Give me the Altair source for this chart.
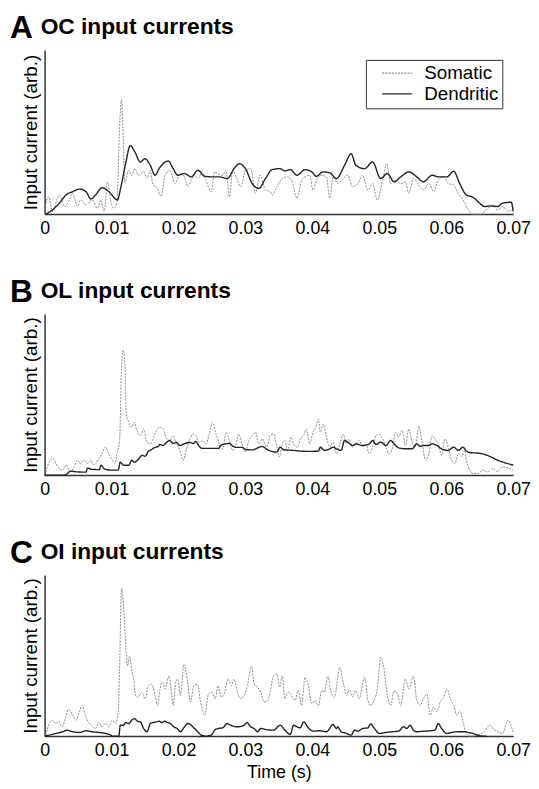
import altair as alt
import pandas as pd

# ---------------- data (time in s, current in arb. units) ----------------
A_som = [(0.0000,4.3),(0.0006,17.7),(0.0012,2.7),(0.0022,19.3),(0.0030,7.7),(0.0037,14.3),(0.0042,21),
         (0.0049,7.7),(0.0054,14.3),(0.0062,9.3),(0.0071,14.3),(0.0079,6),(0.0084,14.3),(0.0089,2.7),
         (0.0094,32.7),(0.0099,12.7),(0.0103,6),(0.0108,11),(0.0112,87.7),(0.0115,116),(0.0117,87.7),
         (0.0120,31),(0.0123,39.3),(0.0126,44.3),(0.0130,39.3),(0.0135,46),(0.0140,39.3),(0.0148,42.7),
         (0.0153,36),(0.0158,44.3),(0.0162,29.3),(0.0167,27.7),(0.0174,17.7),(0.0180,39.3),(0.0187,44.3),
         (0.0195,31),(0.0202,41),(0.0209,37.7),(0.0214,27.7),(0.0219,34.3),(0.0224,39.3),(0.0229,36),
         (0.0236,42.7),(0.0241,34.3),(0.0249,22.7),(0.0254,42.7),(0.0258,41),(0.0266,39.3),(0.0271,44.3),
         (0.0276,17.7),(0.0281,44.3),(0.0286,37.7),(0.0293,27.7),(0.0300,44.3),(0.0308,46),(0.0315,21),
         (0.0322,39.3),(0.0330,24.3),(0.0337,22.7),(0.0340,19.3),(0.0347,27.7),(0.0355,36),(0.0362,37.7),
         (0.0369,34.3),(0.0377,16),(0.0384,34.3),(0.0389,37.7),(0.0396,39.3),(0.0401,24.3),(0.0406,34.3),
         (0.0414,39.3),(0.0421,37.7),(0.0426,16),(0.0431,37.7),(0.0438,31),(0.0446,36),(0.0453,39.3),
         (0.0460,27.7),(0.0468,31),(0.0475,39.3),(0.0483,24.3),(0.0490,31),(0.0497,14.3),(0.0505,34.3),
         (0.0511,51),(0.0517,31),(0.0524,34.3),(0.0532,31),(0.0539,32.7),(0.0544,21),(0.0551,36),
         (0.0559,29.3),(0.0566,24.3),(0.0574,31),(0.0581,22.7),(0.0588,34.3),(0.0596,37.7),(0.0603,31),
         (0.0611,29.3),(0.0618,21),(0.0625,14.3),(0.0633,4.3),(0.0639,0),(0.0652,0),(0.0662,6),
         (0.0670,7.7),(0.0677,4.3),(0.0684,7.7),(0.0692,3),(0.0700,5)]
A_den = [(0.0002,0),(0.0012,4.3),(0.0022,11),(0.0032,19.3),(0.0042,22.7),(0.0052,25.3),(0.0062,22.7),
         (0.0069,15.3),(0.0076,19.3),(0.0086,26.7),(0.0096,22.7),(0.0109,14.3),(0.0113,24.3),(0.0121,51),
         (0.0128,69.3),(0.0135,62.7),(0.0143,52.7),(0.0150,56),(0.0158,49.3),(0.0165,39.3),(0.0172,47),
         (0.0185,53.7),(0.0192,46),(0.0199,39.3),(0.0209,41),(0.0219,37.7),(0.0229,44.3),(0.0239,38.3),
         (0.0249,37.7),(0.0261,37.7),(0.0273,36),(0.0283,46),(0.0291,51),(0.0300,46),(0.0310,31),
         (0.0320,26),(0.0330,36),(0.0340,45),(0.0352,46),(0.0359,43.7),(0.0367,45),(0.0377,39.3),
         (0.0389,45),(0.0399,42.7),(0.0406,38.3),(0.0416,42.7),(0.0426,41.7),(0.0436,36),(0.0448,49.3),
         (0.0458,61),(0.0465,49.3),(0.0478,46),(0.0490,52.7),(0.0502,36),(0.0512,41),(0.0522,32.7),
         (0.0532,37.7),(0.0544,42.7),(0.0556,37.7),(0.0566,32.7),(0.0579,39.3),(0.0588,37.7),(0.0601,37.7),
         (0.0611,43.3),(0.0620,31),(0.0630,19.3),(0.0640,17),(0.0650,11),(0.0657,7.7),(0.0667,8.3),
         (0.0677,7.7),(0.0684,11),(0.0697,12),(0.0700,3)]

B_som = [(0.0002,3.3),(0.0007,13.3),(0.0012,16.7),(0.0020,8.3),(0.0027,5),(0.0032,10),(0.0039,3.3),
         (0.0044,8.3),(0.0049,15),(0.0054,11.7),(0.0059,15),(0.0064,11.7),(0.0069,15),(0.0074,10),
         (0.0081,16.7),(0.0086,21.7),(0.0091,28.3),(0.0096,21.7),(0.0101,15),(0.0105,11.7),(0.0108,21.7),
         (0.0112,35),(0.0115,108.3),(0.0117,126.6),(0.0120,111.6),(0.0122,61.6),(0.0126,53.3),(0.0130,48.3),
         (0.0134,53.3),(0.0138,45),(0.0143,40),(0.0148,46.6),(0.0153,33.3),(0.0158,31.6),(0.0162,36.6),
         (0.0167,45),(0.0172,48.3),(0.0177,46.6),(0.0182,36.6),(0.0187,35),(0.0192,40),(0.0197,31.6),
         (0.0202,25),(0.0207,15),(0.0212,26.6),(0.0217,36.6),(0.0222,41.6),(0.0226,40),(0.0231,33.3),
         (0.0236,35),(0.0241,31.6),(0.0246,41.6),(0.0251,53.3),(0.0256,41.6),(0.0261,31.6),(0.0266,26.6),
         (0.0271,43.3),(0.0276,35),(0.0281,25),(0.0286,31.6),(0.0290,41.6),(0.0295,31.6),(0.0300,23.3),
         (0.0305,35),(0.0310,40),(0.0315,43.3),(0.0320,31.6),(0.0325,36.6),(0.0332,28.3),(0.0337,40),
         (0.0342,41.6),(0.0347,28.3),(0.0351,18.3),(0.0355,31.6),(0.0359,35),(0.0363,25),(0.0368,38.3),
         (0.0373,30),(0.0378,28.3),(0.0382,36.6),(0.0387,40),(0.0391,46.6),(0.0396,31.6),(0.0401,43.3),
         (0.0405,48.3),(0.0409,56.6),(0.0412,43.3),(0.0416,51.6),(0.0421,38.3),(0.0426,28.3),(0.0431,33.3),
         (0.0436,21.6),(0.0441,31.6),(0.0446,41.6),(0.0451,31.6),(0.0455,36.6),(0.0460,28.3),(0.0465,31.6),
         (0.0470,35),(0.0475,28.3),(0.0480,31.6),(0.0485,21.6),(0.0490,28.3),(0.0495,40),(0.0500,41.6),
         (0.0505,36.6),(0.0510,28.3),(0.0514,21.6),(0.0520,28.3),(0.0524,43.3),(0.0529,38.3),(0.0534,45),
         (0.0539,30),(0.0544,46.6),(0.0549,33.3),(0.0554,28.3),(0.0559,50),(0.0564,31.6),(0.0569,15),
         (0.0574,21.6),(0.0579,40),(0.0583,36.6),(0.0588,31.6),(0.0593,20),(0.0598,36.6),(0.0603,28.3),
         (0.0608,15),(0.0613,11.6),(0.0618,21.6),(0.0623,18.3),(0.0627,25),(0.0630,15),(0.0635,5),
         (0.0640,1.6),(0.0647,1.6),(0.0655,5),(0.0662,3.3),(0.0670,6.6),(0.0677,3.3),(0.0684,8.3),
         (0.0700,5)]
B_den = [(0.0000,0),(0.0030,0),(0.0032,0.5),(0.0039,4),(0.0045,3.5),(0.0062,3),(0.0064,7),(0.0070,6),
         (0.0082,5.5),(0.0084,10),(0.0090,6),(0.0100,5),(0.0110,5),(0.0113,13),(0.0118,10),(0.0126,10),
         (0.0130,15),(0.0134,13),(0.0140,16),(0.0146,20),(0.0150,19),(0.0155,24),(0.0160,26),(0.0165,28),
         (0.0170,29),(0.0172,31),(0.0177,30),(0.0182,33),(0.0187,35),(0.0192,32),(0.0197,33),(0.0202,30),
         (0.0210,32),(0.0217,33),(0.0222,32),(0.0226,34),(0.0231,29),(0.0236,27),(0.0250,27),(0.0260,27),
         (0.0263,30),(0.0270,31.6),(0.0276,32),(0.0280,30),(0.0286,28),(0.0295,28),(0.0300,26),
         (0.0310,25.5),(0.0320,28),(0.0325,29),(0.0332,26),(0.0347,23.3),(0.0352,28.3),(0.0357,25.6),
         (0.0372,25),(0.0382,24.3),(0.0396,24),(0.0409,24.3),(0.0412,28.3),(0.0418,25),(0.0426,26.6),
         (0.0431,28.3),(0.0436,26.6),(0.0443,25),(0.0448,35),(0.0453,33.3),(0.0460,30),(0.0465,31.6),
         (0.0475,30),(0.0485,31.6),(0.0490,35),(0.0495,31),(0.0502,33.3),(0.0510,30),(0.0517,35),
         (0.0522,31.6),(0.0529,27.6),(0.0539,26.6),(0.0549,26.6),(0.0556,31.6),(0.0561,29),(0.0566,30),
         (0.0574,30),(0.0579,31.6),(0.0586,30),(0.0593,26.6),(0.0603,25),(0.0611,28.3),(0.0618,25),
         (0.0625,28.3),(0.0630,24.3),(0.0638,22.6),(0.0647,22.3),(0.0657,21),(0.0667,18.3),(0.0677,15),
         (0.0684,13.3),(0.0700,10)]

C_som = [(0.0002,1),(0.0007,12.7),(0.0012,16),(0.0017,12.7),(0.0021,15),(0.0026,9.4),(0.0031,17.7),
         (0.0036,27),(0.0042,21),(0.0047,16),(0.0052,24.4),(0.0056,31),(0.0061,21),(0.0066,13.7),
         (0.0070,11),(0.0076,7.7),(0.0081,14.4),(0.0086,9.4),(0.0091,12.7),(0.0096,9.4),(0.0101,16),
         (0.0106,12.7),(0.0110,24.4),(0.0112,67.7),(0.0115,149.4),(0.0118,131),(0.0122,84.4),(0.0124,71),
         (0.0127,81),(0.0130,67.7),(0.0133,57.7),(0.0136,41),(0.0140,39.4),(0.0145,44.4),(0.0150,37.7),
         (0.0155,51),(0.0160,52.7),(0.0165,41),(0.0169,31),(0.0172,46),(0.0176,54.4),(0.0180,47.7),
         (0.0186,61),(0.0189,47.7),(0.0192,31),(0.0196,54.4),(0.0199,57.7),(0.0203,41),(0.0208,72.7),
         (0.0213,57.7),(0.0218,34.4),(0.0223,51),(0.0228,52.7),(0.0233,34.4),(0.0239,21),(0.0245,42.7),
         (0.0250,44.4),(0.0255,37.7),(0.0259,51),(0.0264,39.4),(0.0269,44.4),(0.0274,57.7),(0.0279,51),
         (0.0283,57.7),(0.0288,44.4),(0.0293,37.7),(0.0298,41),(0.0303,51),(0.0309,71),(0.0313,52.7),
         (0.0318,49.4),(0.0323,44.4),(0.0328,34.4),(0.0332,35),(0.0337,44.4),(0.0342,61),(0.0347,62.7),
         (0.0351,49.4),(0.0355,61),(0.0359,37.7),(0.0364,44.4),(0.0369,41),(0.0374,36),(0.0379,46),
         (0.0384,31),(0.0389,59.4),(0.0394,51),(0.0399,32.7),(0.0404,36),(0.0409,31),(0.0414,46),
         (0.0418,44.4),(0.0423,61),(0.0428,44.4),(0.0433,39.4),(0.0441,69.4),(0.0446,54.4),(0.0451,41),
         (0.0455,47.7),(0.0460,39.4),(0.0465,46),(0.0470,37.7),(0.0478,59.4),(0.0483,36),(0.0487,31),
         (0.0492,36),(0.0497,47.7),(0.0502,79.4),(0.0507,67.7),(0.0512,41),(0.0517,31),(0.0522,46),
         (0.0527,42.7),(0.0532,31),(0.0539,57.7),(0.0544,47.7),(0.0551,61),(0.0556,36),(0.0561,31),
         (0.0566,37.7),(0.0571,42.7),(0.0576,21),(0.0581,29.4),(0.0586,24.4),(0.0591,34.4),(0.0596,39.4),
         (0.0601,47.7),(0.0606,37.7),(0.0611,31),(0.0616,21),(0.0620,26),(0.0625,14.4),(0.0630,2.7),
         (0.0635,0),(0.0647,1),(0.0657,4.4),(0.0665,11),(0.0672,6),(0.0677,4.4),(0.0684,2.7),
         (0.0692,16),(0.0700,4)]
C_den = [(0.0000,0),(0.0007,1),(0.0017,2.7),(0.0027,4.4),(0.0034,6),(0.0042,4.4),(0.0052,3.7),
         (0.0062,5.4),(0.0071,4.4),(0.0081,3.7),(0.0091,2.7),(0.0099,1),(0.0101,0),(0.0111,0),
         (0.0113,11),(0.0118,11),(0.0121,13.7),(0.0126,12.7),(0.0130,16),(0.0134,17.7),(0.0139,15),
         (0.0143,14.4),(0.0148,7.7),(0.0153,4.4),(0.0158,12.7),(0.0162,13.7),(0.0167,14.4),(0.0171,15),
         (0.0175,13.7),(0.0179,15),(0.0184,13.7),(0.0188,12.7),(0.0193,9.4),(0.0198,7.7),(0.0203,4.4),
         (0.0209,9.4),(0.0214,12.7),(0.0219,11),(0.0224,7.7),(0.0229,4.4),(0.0234,1),(0.0241,0),
         (0.0249,1),(0.0254,6),(0.0259,7.7),(0.0266,8.4),(0.0273,12.7),(0.0278,11),(0.0288,9.4),
         (0.0298,11),(0.0302,13.7),(0.0308,9.4),(0.0313,7.7),(0.0318,4.4),(0.0323,7.7),(0.0332,6.5),
         (0.0342,6),(0.0352,11),(0.0359,6),(0.0367,1.7),(0.0372,11),(0.0377,9.4),(0.0382,8.4),
         (0.0387,14.4),(0.0394,8.4),(0.0401,5),(0.0411,5.4),(0.0421,4.4),(0.0431,11.7),(0.0436,7.7),
         (0.0438,9.4),(0.0443,4.4),(0.0451,2.7),(0.0458,1),(0.0463,6),(0.0468,5),(0.0475,7.7),
         (0.0483,8.4),(0.0487,12.4),(0.0492,8.4),(0.0500,2.7),(0.0510,3.7),(0.0519,4.4),(0.0529,5),
         (0.0536,9.4),(0.0541,7.7),(0.0546,11),(0.0551,6),(0.0556,4.4),(0.0566,5),(0.0576,5.4),
         (0.0583,6),(0.0588,12.7),(0.0593,7.7),(0.0601,2.7),(0.0608,3.7),(0.0618,4.4),(0.0628,4.4),
         (0.0635,3.4),(0.0640,2.7),(0.0647,1),(0.0655,0),(0.0660,0)]

series_names = ["Somatic", "Dendritic"]
x_ticks = [0, 0.01, 0.02, 0.03, 0.04, 0.05, 0.06, 0.07]

panels = [
    ("A", "OC input currents", A_som, A_den, 166),
    ("B", "OL input currents", B_som, B_den, 163),
    ("C", "OI input currents", C_som, C_den, 163),
]

FONT = "Liberation Sans"


def make_df(som, den):
    rows = [{"t": t, "v": v, "series": "Somatic"} for t, v in som]
    rows += [{"t": t, "v": v, "series": "Dendritic"} for t, v in den]
    return pd.DataFrame(rows)


charts = []
for i, (letter, title, som, den, ymax) in enumerate(panels):
    df = make_df(som, den)
    last = i == len(panels) - 1
    if i == 0:
        leg = alt.Legend(title=None, orient="none", legendX=325, legendY=10,
                         strokeColor="#333", fillColor="white", padding=4,
                         labelFontSize=19, labelFont=FONT, labelColor="black",
                         symbolType="M0.6,0H6.6", symbolSize=100, symbolStrokeWidth=1.3,
                         labelOffset=36, rowPadding=1, labelLimit=200)
    else:
        leg = None
    lines = alt.Chart(df).mark_line(interpolate="monotone").encode(
        x=alt.X("t:Q",
                scale=alt.Scale(domain=[0, 0.07], nice=False, zero=False),
                axis=alt.Axis(values=x_ticks, format=".2~f", labelFontSize=18, labelFont=FONT,
                              labelColor="black", ticks=False, grid=False, domainColor="#333",
                              domainWidth=1.5, labelPadding=6, labelFlush=False,
                              labelOverlap=False,
                              title="Time (s)" if last else None,
                              titleFontSize=18, titleFont=FONT, titleFontWeight="normal",
                              titleColor="black", titlePadding=4)),
        y=alt.Y("v:Q",
                scale=alt.Scale(domain=[0, ymax], nice=False),
                axis=alt.Axis(labels=False, ticks=False, grid=False, domainColor="#333",
                              domainWidth=1.5, title="Input current (arb.)", titleFontSize=19,
                              titleFont=FONT, titleFontWeight="normal", titleColor="black",
                              titlePadding=4)),
        color=alt.Color("series:N", scale=alt.Scale(domain=series_names, range=["#8c8c8c", "#222222"]),
                        legend=leg),
        strokeDash=alt.StrokeDash("series:N",
                                  scale=alt.Scale(domain=series_names, range=[[2, 1.2], [1, 0]]),
                                  legend=leg),
        strokeWidth=alt.StrokeWidth("series:N",
                                    scale=alt.Scale(domain=series_names, range=[1.0, 1.4]),
                                    legend=None),
    )
    lab = alt.Chart(pd.DataFrame({"l": [letter]})).mark_text(
        font=FONT, fontSize=32, fontWeight="bold", align="left", baseline="alphabetic",
        color="black").encode(text="l:N", x=alt.value(-35), y=alt.value(-12))
    ttl = alt.Chart(pd.DataFrame({"l": [title]})).mark_text(
        font=FONT, fontSize=23, fontWeight="bold", align="left", baseline="alphabetic",
        color="black").encode(text="l:N", x=alt.value(-4), y=alt.value(-16))
    layer = alt.layer(lines, lab, ttl).properties(
        width=474, height=ymax,
    ).resolve_legend(color="independent", strokeDash="independent")
    charts.append(layer)

chart = alt.vconcat(*charts, spacing=39).resolve_scale(
    color="independent", strokeDash="independent", strokeWidth="independent", y="independent"
).resolve_legend(color="independent", strokeDash="independent").configure_view(
    stroke=None
).properties(padding={"left": 2, "top": 0, "right": 0, "bottom": 0})

chart.save("out.html", embed_options={"renderer": "svg", "actions": False})
